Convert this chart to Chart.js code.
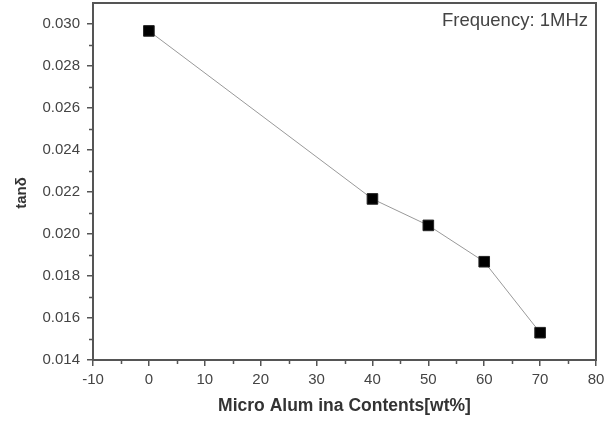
<!DOCTYPE html>
<html>
<head>
<meta charset="utf-8">
<script src="https://cdn.jsdelivr.net/npm/chart.js@4.4.1/dist/chart.umd.min.js"></script>
<style>
    body { margin: 0; background: #fff; }
    #wrap { width: 608px; height: 424px; }
</style>
</head>
<body>
<div id="wrap"><canvas id="chart" width="608" height="424"></canvas></div>
<script>
// values
const contents = [0, 40, 50, 60, 70];
const tanDelta = [0.02967, 0.02167, 0.02041, 0.01868, 0.0153];
const xTicks = [-10, 0, 10, 20, 30, 40, 50, 60, 70, 80];
const yTicks = [0.014, 0.016, 0.018, 0.020, 0.022, 0.024, 0.026, 0.028, 0.030];
const xMinor = [-5, 5, 15, 25, 35, 45, 55, 65, 75];
const yMinor = [0.015, 0.017, 0.019, 0.021, 0.023, 0.025, 0.027, 0.029];

const frameColor = '#555';
const labelFont = { family: 'Liberation Sans, Arial, sans-serif', size: 15 };

// box round the plot, minor ticks, y title and the frequency note
const framePlugin = {
    id: 'frame',
    afterDraw(chart) {
        const ctx = chart.ctx;
        const a = chart.chartArea;
        const xs = chart.scales.x, ys = chart.scales.y;
        ctx.save();
        ctx.strokeStyle = frameColor;
        ctx.lineWidth = 2;
        ctx.strokeRect(a.left, a.top, a.right - a.left, a.bottom - a.top);

        ctx.lineWidth = 1.5;
        ctx.beginPath();
        xMinor.forEach(v => {
            const px = Math.round(xs.getPixelForValue(v)) + 0.5;
            ctx.moveTo(px, a.bottom);
            ctx.lineTo(px, a.bottom + 4);
        });
        yMinor.forEach(v => {
            const py = Math.round(ys.getPixelForValue(v)) + 0.5;
            ctx.moveTo(a.left, py);
            ctx.lineTo(a.left - 4, py);
        });
        ctx.stroke();

        ctx.fillStyle = '#333';
        ctx.font = 'bold 15px Liberation Sans, Arial, sans-serif';
        ctx.textAlign = 'center';
        ctx.textBaseline = 'middle';
        ctx.translate(22, 193);
        ctx.rotate(-Math.PI / 2);
        ctx.fillText('tanδ', 0, 0);
        ctx.restore();

        ctx.save();
        ctx.fillStyle = '#444';
        ctx.font = '18.5px Liberation Sans, Arial, sans-serif';
        ctx.textAlign = 'right';
        ctx.textBaseline = 'alphabetic';
        ctx.fillText('Frequency: 1MHz', a.right - 8, a.top + 23);
        ctx.restore();
    }
};

const points = contents.map((x, i) => ({ x: x, y: tanDelta[i] }));

new Chart(document.getElementById('chart'), {
    type: 'scatter',
    data: {
        datasets: [{
            data: points,
            showLine: true,
            borderColor: '#999',
            borderWidth: 1,
            pointStyle: 'rect',
            pointRadius: 7.5,
            pointBackgroundColor: '#000',
            pointBorderColor: '#222',
            pointBorderWidth: 1
        }]
    },
    options: {
        responsive: false,
        animation: false,
        layout: { autoPadding: false, padding: { top: 3, right: 12, left: 0, bottom: 0 } },
        plugins: {
            legend: { display: false },
            tooltip: { enabled: false }
        },
        scales: {
            x: {
                type: 'linear',
                min: -10,
                max: 80,
                afterBuildTicks: s => { s.ticks = xTicks.map(v => ({ value: v })); },
                afterFit: s => { s.height = 64; s.paddingLeft = 0; s.paddingRight = 0; },
                border: { display: false },
                grid: { drawOnChartArea: false, drawTicks: true, tickLength: 6, color: frameColor, lineWidth: 1.5 },
                ticks: { color: '#444', font: labelFont, padding: 5, maxRotation: 0 },
                title: {
                    display: true,
                    text: 'Micro Alum ina Contents[wt%]',
                    color: '#333',
                    font: { family: 'Liberation Sans, Arial, sans-serif', size: 17.5, weight: 'bold' },
                    padding: { top: 0, bottom: 7 }
                }
            },
            y: {
                type: 'linear',
                min: 0.014,
                max: 0.031,
                afterBuildTicks: s => { s.ticks = yTicks.map(v => ({ value: v })); },
                afterFit: s => { s.width = 93; s.paddingTop = 0; s.paddingBottom = 0; },
                border: { display: false },
                grid: { drawOnChartArea: false, drawTicks: true, tickLength: 6, color: frameColor, lineWidth: 1.5 },
                ticks: { color: '#444', font: labelFont, padding: 7, callback: v => v.toFixed(3) }
            }
        }
    },
    plugins: [framePlugin]
});
</script>
</body>
</html>
